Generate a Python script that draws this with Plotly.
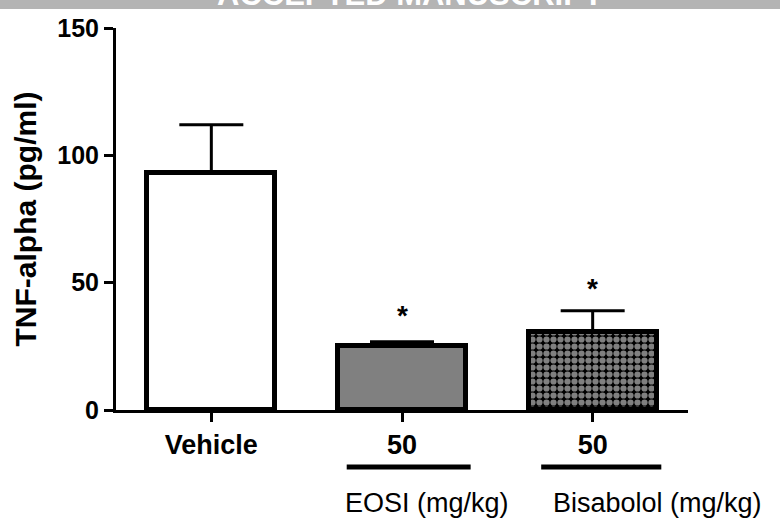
import plotly.graph_objects as go

# ---- data ----
categories = ["Vehicle", "EOSI 50", "Bisabolol 50"]
tick_labels = ["Vehicle", "50", "50"]
tnf_mean = [93, 25, 30.5]
tnf_sem = [19, 1.8, 8.5]
star_y = [None, 39, 49.5]
group_labels = ["EOSI (mg/kg)", "Bisabolol (mg/kg)"]
group_centers = [1.13, 2.34]
group_line_spans = [(0.71, 1.36), (1.73, 2.36)]

xpos = list(range(len(categories)))
fill_colors = ["white", "#808080", "black"]
pattern_fg = ["black", "black", "white"]
patterns = ["", "", "."]

FONT = "Liberation Sans, Arial, sans-serif"

fig = go.Figure()
fig.add_trace(go.Bar(
    x=xpos, y=tnf_mean, width=0.67,
    marker=dict(color=fill_colors,
                line=dict(color="black", width=5),
                pattern=dict(shape=patterns, fgcolor=pattern_fg, bgcolor=fill_colors,
                             size=7, solidity=0.62)),
    error_y=dict(type="data", symmetric=False, array=tnf_sem,
                 arrayminus=[0] * len(tnf_sem), color="black", thickness=3, width=32),
    showlegend=False, hoverinfo="skip",
))

for xi, sy in zip(xpos, star_y):
    if sy is None:
        continue
    fig.add_annotation(x=xi, y=sy, xref="x", yref="y", text="<b>*</b>", showarrow=False,
                       font=dict(family=FONT, size=28, color="black"), yshift=-5)

for (a, b) in group_line_spans:
    fig.add_shape(type="line", xref="x", yref="paper", x0=a, x1=b, y0=-0.149, y1=-0.149,
                  line=dict(color="black", width=5))

for lab, cx in zip(group_labels, group_centers):
    fig.add_annotation(x=cx, y=-0.243, xref="x", yref="paper", text=lab, showarrow=False,
                       yanchor="middle", font=dict(family=FONT, size=27, color="black"))

# top banner (partly cut off in the reference)
fig.add_shape(type="rect", xref="paper", yref="paper", x0=-0.25, x1=1.25,
              y0=1 + (27.5 - 8.5) / 382.5, y1=1.2, line=dict(width=0),
              fillcolor="#b4b4b4", layer="below")
fig.add_annotation(x=0.514, y=1 + (27.5 - 5) / 382.5, xref="paper", yref="paper",
                   text="<b>ACCEPTED MANUSCRIPT</b>", showarrow=False, yanchor="bottom",
                   font=dict(family=FONT, size=31, color="white"), yshift=-8)

fig.update_xaxes(range=[-0.5, 2.5], tickvals=xpos, ticktext=tick_labels,
                 showline=True, linewidth=3, linecolor="black",
                 ticks="outside", ticklen=9, tickwidth=3, tickcolor="black",
                 showgrid=False, zeroline=False,
                 tickfont=dict(family=FONT, size=27, color="black", weight="bold"))
fig.update_yaxes(range=[0, 150], tickvals=[0, 50, 100, 150],
                 showline=True, linewidth=3, linecolor="black",
                 ticks="outside", ticklen=9, tickwidth=3, tickcolor="black",
                 showgrid=False, zeroline=False,
                 tickfont=dict(family=FONT, size=25, color="black", weight="bold"),
                 title=dict(text="TNF-alpha (pg/ml)", standoff=12,
                            font=dict(family=FONT, size=30, color="black", weight="bold")))

fig.update_layout(width=780, height=522, plot_bgcolor="white", paper_bgcolor="white",
                  margin=dict(l=116, r=92, t=27.5, b=112), bargap=0)

fig.write_html("out.html")
